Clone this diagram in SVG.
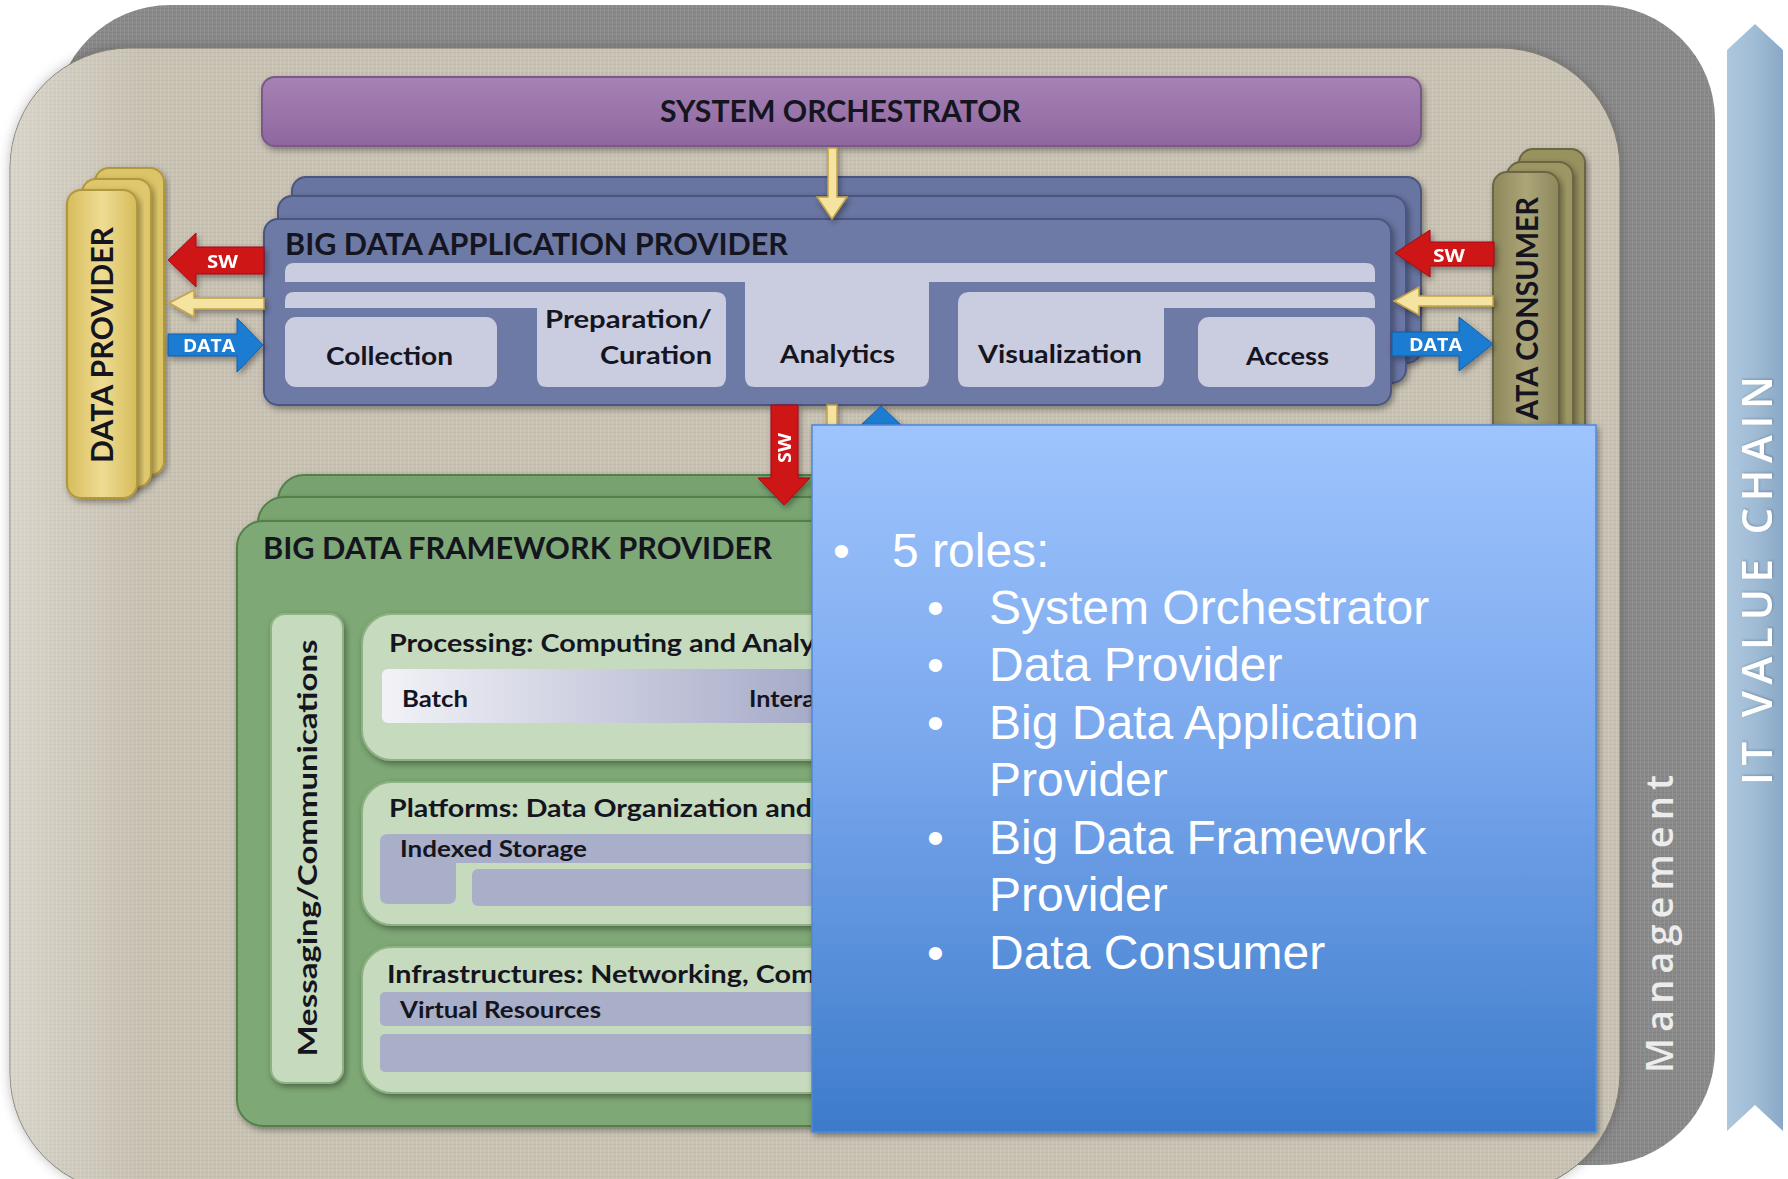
<svg xmlns="http://www.w3.org/2000/svg" width="1788" height="1179" viewBox="0 0 1788 1179">
  <defs>
    <style>
      .t{font-family:Lato,"Open Sans","Liberation Sans",sans-serif;font-weight:700;fill:#15151f}
      .big{font-size:30px}
      .lbl{font-size:25px}
      .sm{font-size:22px}
      .aw{font-family:"Open Sans","Liberation Sans",sans-serif;font-weight:700;fill:#fff;font-size:17px}
      .rl{font-family:"Liberation Sans",Arial,sans-serif;font-size:48px;fill:#fff}
      .inner{fill:#cacde0}
      .bdap{stroke:#4b5580;stroke-width:2}
      .grn{stroke:#527f4a;stroke-width:2}
      .gpanel{fill:#c6dabd;stroke:#8db383;stroke-width:2}
      .strip{fill:#a9aec9}
      .ylw{fill:#f4e3a1;stroke:#c4a247;stroke-width:1.5}
      .red{fill:#cf1418;stroke:#a40d10;stroke-width:1}
      .blu{fill:#1c7bd1;stroke:#145fa6;stroke-width:1}
      .side{font-family:"Open Sans","DejaVu Sans",sans-serif;font-weight:600}
    </style>
    <pattern id="linen" width="4" height="4" patternUnits="userSpaceOnUse">
      <rect width="4" height="4" fill="#c8c2b3"/>
      <rect width="4" height="1" fill="#bbb4a4" opacity="0.55"/>
      <rect width="1" height="4" fill="#d5d0c3" opacity="0.55"/>
    </pattern>
    <pattern id="slate" width="4" height="4" patternUnits="userSpaceOnUse">
      <rect width="4" height="4" fill="#8a8a8a"/>
      <rect width="4" height="1" fill="#7c7c7c" opacity="0.6"/>
      <rect width="1" height="4" fill="#979797" opacity="0.6"/>
    </pattern>
    <linearGradient id="gPurple" x1="0" y1="0" x2="0" y2="1">
      <stop offset="0" stop-color="#a682b5"/>
      <stop offset="1" stop-color="#8f679f"/>
    </linearGradient>
    <linearGradient id="gYellow" x1="0" y1="0" x2="1" y2="0">
      <stop offset="0" stop-color="#d6bc5a"/>
      <stop offset="0.5" stop-color="#eedc93"/>
      <stop offset="1" stop-color="#d6bc5a"/>
    </linearGradient>
    <linearGradient id="gOlive" x1="0" y1="0" x2="1" y2="0">
      <stop offset="0" stop-color="#8d875c"/>
      <stop offset="0.5" stop-color="#aba578"/>
      <stop offset="1" stop-color="#8d875c"/>
    </linearGradient>
    <linearGradient id="gBatch" gradientUnits="userSpaceOnUse" x1="382" y1="0" x2="812" y2="0">
      <stop offset="0" stop-color="#f2f2f7"/>
      <stop offset="1" stop-color="#a6abc8"/>
    </linearGradient>
    <linearGradient id="gRoles" x1="0" y1="0" x2="0" y2="1">
      <stop offset="0" stop-color="#9fc4fd"/>
      <stop offset="0.45" stop-color="#7aa8ed"/>
      <stop offset="1" stop-color="#3d7bcb"/>
    </linearGradient>
    <linearGradient id="gChain" x1="0" y1="0" x2="1" y2="0">
      <stop offset="0" stop-color="#adc7dd"/>
      <stop offset="0.5" stop-color="#a0bcd5"/>
      <stop offset="1" stop-color="#8aa8c6"/>
    </linearGradient>
    <linearGradient id="gLight" gradientUnits="userSpaceOnUse" x1="10" y1="0" x2="140" y2="0">
      <stop offset="0" stop-color="#ffffff" stop-opacity="0.3"/>
      <stop offset="1" stop-color="#ffffff" stop-opacity="0"/>
    </linearGradient>
    <filter id="sh" x="-10%" y="-10%" width="120%" height="130%">
      <feDropShadow dx="2" dy="3" stdDeviation="3" flood-color="#000" flood-opacity="0.38"/>
    </filter>
    <filter id="glow" x="-5%" y="-5%" width="110%" height="110%">
      <feDropShadow dx="0" dy="0" stdDeviation="6" flood-color="#000" flood-opacity="0.25"/>
    </filter>
    <filter id="soft" x="-10%" y="-5%" width="120%" height="110%">
      <feDropShadow dx="1" dy="1" stdDeviation="1" flood-color="#3a4a60" flood-opacity="0.35"/>
    </filter>
  </defs>

  <rect width="1788" height="1179" fill="#ffffff"/>

  <!-- backdrop: management frame and linen panel -->
  <g id="backdrop">
    <rect x="55" y="5" width="1660" height="1160" rx="115" fill="url(#slate)"/>
    <rect x="10" y="48" width="1610" height="1145" rx="120" fill="url(#linen)" stroke="#7e796e" stroke-width="1" filter="url(#glow)"/>
    <rect x="10" y="48" width="1610" height="1145" rx="120" fill="url(#gLight)"/>
  </g>

  <g id="management">
    <text class="side" transform="translate(1673,1073) rotate(-90)" font-size="38" fill="#ececec" textLength="298" lengthAdjust="spacing">Management</text>
  </g>

  <g id="it-value-chain">
    <polygon points="1727,50 1755,24 1783,50 1783,1131 1755,1105 1727,1131" fill="url(#gChain)"/>
    <text class="side" transform="translate(1772,785) rotate(-90)" font-size="42" fill="#ffffff" filter="url(#soft)" textLength="409" lengthAdjust="spacing">IT VALUE CHAIN</text>
  </g>

  <g id="system-orchestrator">
    <rect x="262" y="77" width="1159" height="69" rx="13" fill="url(#gPurple)" stroke="#7a5889" stroke-width="2" filter="url(#sh)"/>
    <text class="t big" x="660" y="122" textLength="361" lengthAdjust="spacingAndGlyphs">SYSTEM ORCHESTRATOR</text>
  </g>

  <g id="data-provider">
    <rect x="95" y="168" width="69" height="307" rx="14" fill="#dcc468" stroke="#b3973b" stroke-width="2" filter="url(#sh)"/>
    <rect x="82" y="179" width="69" height="308" rx="14" fill="#dec76c" stroke="#b3973b" stroke-width="2" filter="url(#sh)"/>
    <rect x="67" y="190" width="70" height="308" rx="14" fill="url(#gYellow)" stroke="#b3973b" stroke-width="2" filter="url(#sh)"/>
    <text class="t big" transform="translate(113,345) rotate(-90)" text-anchor="middle" textLength="236" lengthAdjust="spacingAndGlyphs">DATA PROVIDER</text>
  </g>

  <g id="data-consumer">
    <rect x="1519" y="149" width="66" height="351" rx="14" fill="#98925f" stroke="#6b6645" stroke-width="2" filter="url(#sh)"/>
    <rect x="1507" y="162" width="66" height="345" rx="14" fill="#9c9664" stroke="#6b6645" stroke-width="2" filter="url(#sh)"/>
    <rect x="1493" y="172" width="66" height="340" rx="14" fill="url(#gOlive)" stroke="#6b6645" stroke-width="2" filter="url(#sh)"/>
    <text class="t big" transform="translate(1538,197) rotate(-90)" text-anchor="end" textLength="223" lengthAdjust="spacingAndGlyphs">ATA CONSUMER</text>
  </g>

  <g id="application-provider">
    <rect class="bdap" x="292" y="177" width="1129" height="186" rx="14" fill="#6874a1" filter="url(#sh)"/>
    <rect class="bdap" x="278" y="196" width="1128" height="187" rx="14" fill="#6a76a3" filter="url(#sh)"/>
    <rect class="bdap" x="264" y="219" width="1127" height="186" rx="14" fill="#6e7aa6" filter="url(#sh)"/>
    <text class="t big" x="285" y="255" textLength="503" lengthAdjust="spacingAndGlyphs">BIG DATA APPLICATION PROVIDER</text>
    <path class="inner" d="M294,263 H1366 Q1375,263 1375,272 V282 H929 V377 Q929,387 919,387 H755 Q745,387 745,377 V282 H285 V272 Q285,263 294,263 Z"/>
    <path class="inner" d="M294,292 H716 Q726,292 726,302 V377 Q726,387 716,387 H547 Q537,387 537,377 V308 H285 V301 Q285,292 294,292 Z"/>
    <path class="inner" d="M970,292 H1366 Q1375,292 1375,301 V308 H1164 V377 Q1164,387 1154,387 H968 Q958,387 958,377 V304 Q958,292 970,292 Z"/>
    <rect class="inner" x="285" y="317" width="212" height="70" rx="11"/>
    <rect class="inner" x="1198" y="317" width="177" height="70" rx="11"/>
    <text class="t lbl" x="326" y="365" textLength="127" lengthAdjust="spacingAndGlyphs">Collection</text>
    <text class="t lbl" x="545" y="328" textLength="167" lengthAdjust="spacingAndGlyphs">Preparation/</text>
    <text class="t lbl" x="600" y="364" textLength="112" lengthAdjust="spacingAndGlyphs">Curation</text>
    <text class="t lbl" x="780" y="363" textLength="115" lengthAdjust="spacingAndGlyphs">Analytics</text>
    <text class="t lbl" x="978" y="363" textLength="164" lengthAdjust="spacingAndGlyphs">Visualization</text>
    <text class="t lbl" x="1246" y="365" textLength="83" lengthAdjust="spacingAndGlyphs">Access</text>
  </g>

  <g id="framework-provider">
    <rect class="grn" x="278" y="475" width="1140" height="600" rx="26" fill="#78a36f" filter="url(#sh)"/>
    <rect class="grn" x="258" y="497" width="1150" height="610" rx="26" fill="#7aa571" filter="url(#sh)"/>
    <rect class="grn" x="237" y="521" width="1170" height="605" rx="26" fill="#7ea875" filter="url(#sh)"/>
    <text class="t big" x="263" y="559" textLength="509" lengthAdjust="spacingAndGlyphs">BIG DATA FRAMEWORK PROVIDER</text>

    <rect class="gpanel" x="271" y="614" width="72" height="469" rx="14" filter="url(#sh)"/>
    <text class="t" font-size="27" transform="translate(317,848) rotate(-90)" text-anchor="middle" textLength="417" lengthAdjust="spacingAndGlyphs">Messaging/Communications</text>

    <rect class="gpanel" x="362" y="614" width="520" height="146" rx="30" filter="url(#sh)"/>
    <text class="t lbl" x="389" y="652" textLength="426" lengthAdjust="spacingAndGlyphs">Processing: Computing and Analy</text>
    <rect x="382" y="669" width="480" height="54" rx="6" fill="url(#gBatch)"/>
    <text class="t sm" x="402" y="707" textLength="66" lengthAdjust="spacingAndGlyphs">Batch</text>
    <text class="t sm" x="749" y="707" textLength="66" lengthAdjust="spacingAndGlyphs">Intera</text>

    <rect class="gpanel" x="362" y="782" width="520" height="143" rx="30" filter="url(#sh)"/>
    <text class="t lbl" x="389" y="817" textLength="423" lengthAdjust="spacingAndGlyphs">Platforms: Data Organization and</text>
    <path class="strip" d="M388,834 H880 V863 H456 V896 Q456,904 448,904 H388 Q380,904 380,896 V842 Q380,834 388,834 Z"/>
    <rect class="strip" x="472" y="869" width="420" height="37" rx="6"/>
    <text class="t sm" x="400" y="857" textLength="187" lengthAdjust="spacingAndGlyphs">Indexed Storage</text>

    <rect class="gpanel" x="362" y="947" width="520" height="146" rx="30" filter="url(#sh)"/>
    <text class="t lbl" x="387" y="983" textLength="428" lengthAdjust="spacingAndGlyphs">Infrastructures: Networking, Com</text>
    <rect class="strip" x="380" y="992" width="500" height="34" rx="5"/>
    <text class="t sm" x="400" y="1018" textLength="201" lengthAdjust="spacingAndGlyphs">Virtual Resources</text>
    <rect class="strip" x="380" y="1034" width="500" height="38" rx="5"/>
  </g>

  <!-- flows between the roles -->
  <g id="connectors" filter="url(#sh)">
    <polygon class="ylw" points="828,148 837,148 837,197 847,197 832,219 817,197 828,197"/>

    <polygon class="red" points="168,260 196,233 196,247 264,247 264,274 196,274 196,287"/>
    <text class="aw" x="207" y="268" textLength="31" lengthAdjust="spacingAndGlyphs">SW</text>
    <polygon class="ylw" points="169,303 194,290 194,298 264,298 264,309 194,309 194,317"/>
    <polygon class="blu" points="168,334 237,334 237,318 263,345 237,372 237,356 168,356"/>
    <text class="aw" x="183" y="352" font-size="16" textLength="52" lengthAdjust="spacingAndGlyphs">DATA</text>

    <polygon class="red" points="1395,253 1430,230 1430,242 1494,242 1494,266 1430,266 1430,277"/>
    <text class="aw" x="1433" y="262" textLength="32" lengthAdjust="spacingAndGlyphs">SW</text>
    <polygon class="ylw" points="1394,301 1419,287 1419,296 1493,296 1493,306 1419,306 1419,315"/>
    <polygon class="blu" points="1392,332 1459,332 1459,317 1493,344 1459,371 1459,356 1392,356"/>
    <text class="aw" x="1409" y="351" font-size="16" textLength="53" lengthAdjust="spacingAndGlyphs">DATA</text>

    <polygon class="red" points="771,405 798,405 798,478 810,478 784,505 758,478 771,478"/>
    <text class="aw" transform="translate(791,448) rotate(-90)" text-anchor="middle" textLength="30" lengthAdjust="spacingAndGlyphs">SW</text>
    <rect class="ylw" x="827" y="405" width="10" height="22"/>
    <polygon class="blu" points="881,406 902,426 860,426"/>
  </g>

  <g id="roles-box">
    <rect x="812" y="425" width="784" height="707" fill="url(#gRoles)" stroke="#4f88d6" stroke-width="1.5" filter="url(#sh)"/>
    <text class="rl">
      <tspan x="833" y="567">•</tspan><tspan x="892" y="567">5 roles:</tspan>
      <tspan x="927" y="624">•</tspan><tspan x="989" y="624">System Orchestrator</tspan>
      <tspan x="927" y="681">•</tspan><tspan x="989" y="681">Data Provider</tspan>
      <tspan x="927" y="739">•</tspan><tspan x="989" y="739">Big Data Application</tspan>
      <tspan x="989" y="796">Provider</tspan>
      <tspan x="927" y="854">•</tspan><tspan x="989" y="854">Big Data Framework</tspan>
      <tspan x="989" y="911">Provider</tspan>
      <tspan x="927" y="969">•</tspan><tspan x="989" y="969">Data Consumer</tspan>
    </text>
  </g>
</svg>
